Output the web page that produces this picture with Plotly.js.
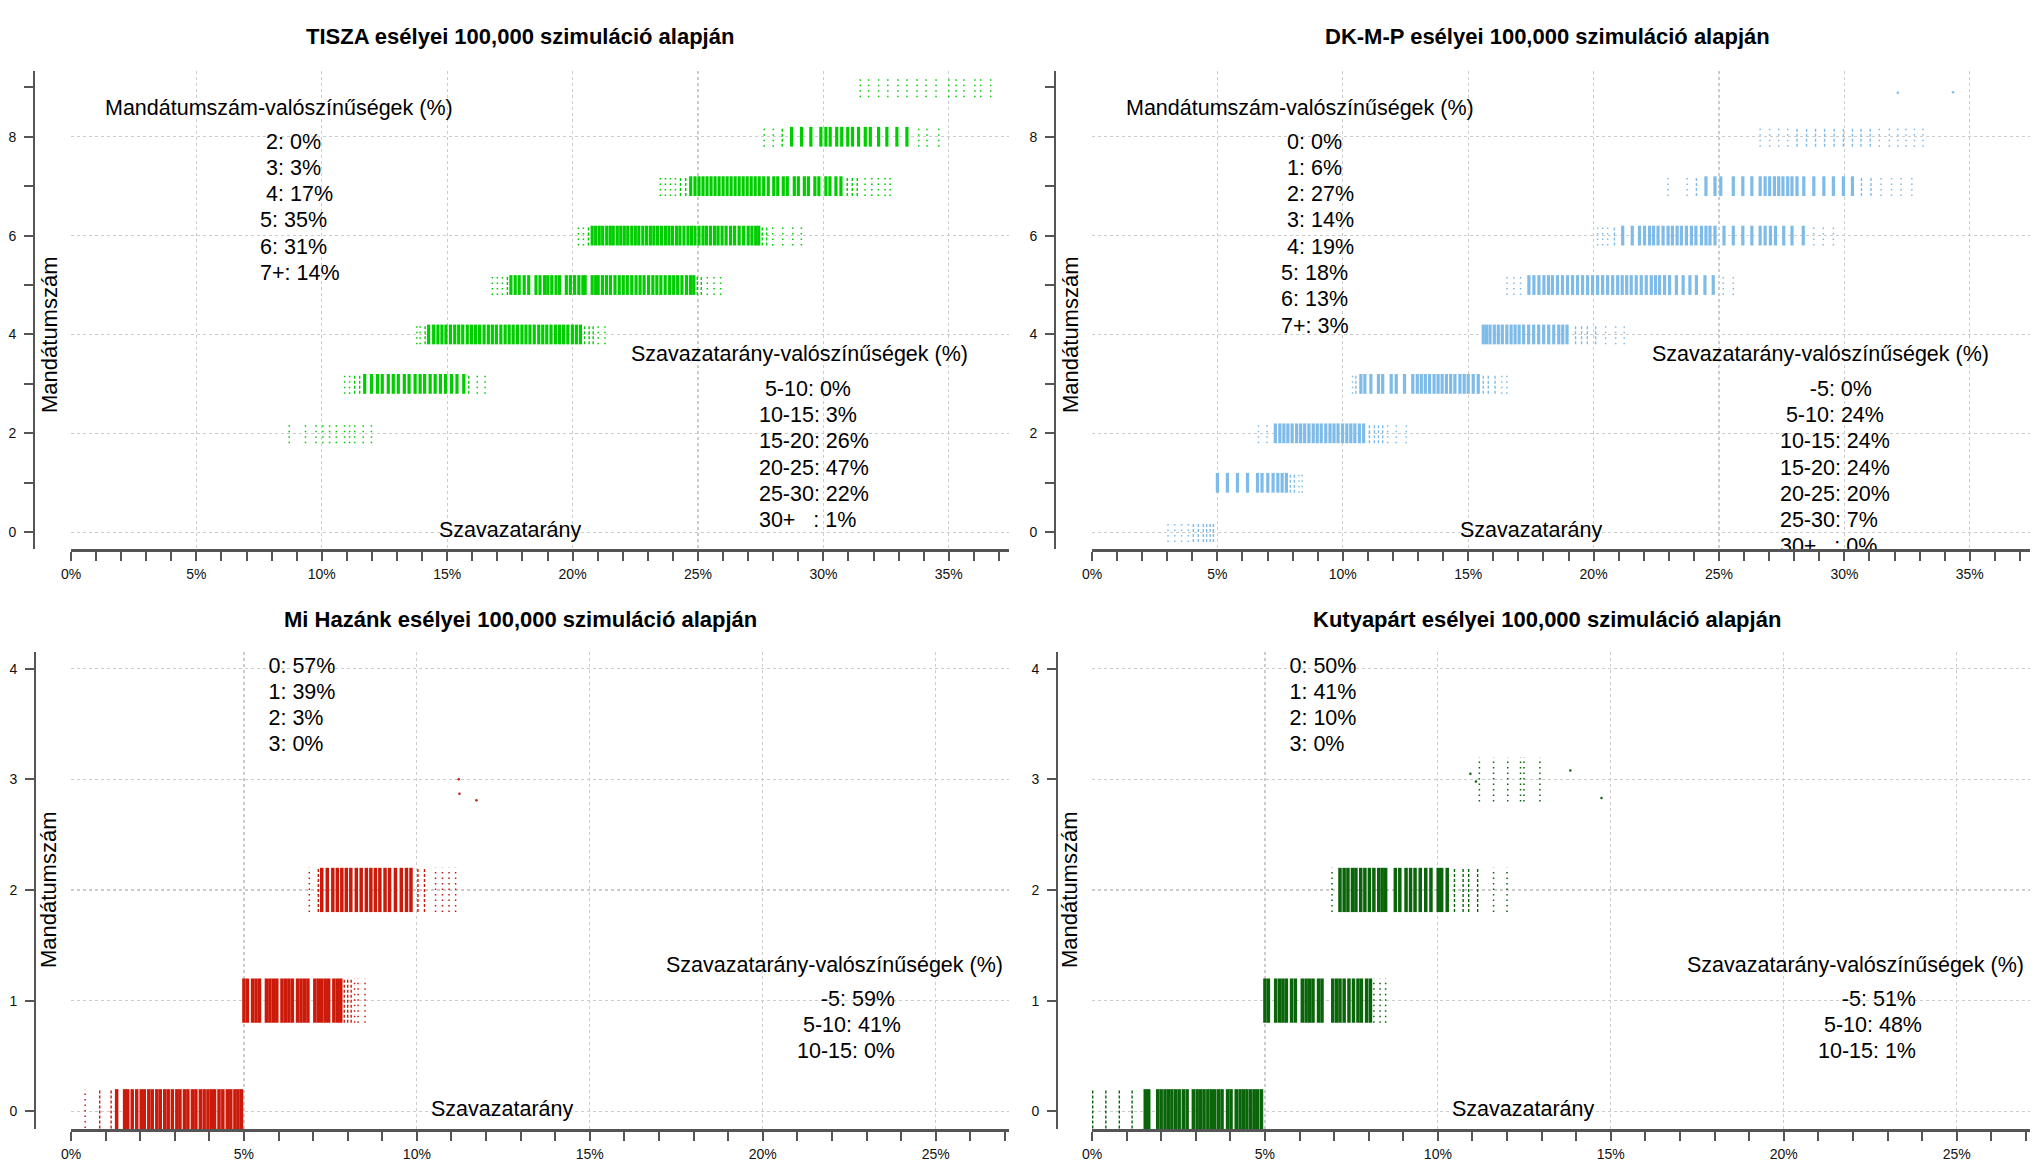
<!DOCTYPE html>
<html>
<head>
<meta charset="utf-8">
<script src="https://cdn.plot.ly/plotly-3.0.1.min.js"></script>
<style>body{margin:0;background:#fff;}</style>
</head>
<body>
<div id="myPlot" style="width:2044px;height:1164px;"></div>
<script>
// ---- data ----
// every band = one seat count; values are vote shares (%) where simulations pile up
// solid = dense stripes, half = thinner stripes, dots = a few scattered simulations

var tiszaSeats = [2, 3, 4, 5, 6, 7, 8, 9];
var tiszaSolid = [
  [],
  [11.71, 11.98, 12.22, 12.41, 12.65, 12.85, 13.05, 13.29, 13.48, 13.72, 13.92, 14.10, 14.32, 14.52, 14.73, 14.93, 15.17, 15.39, 15.66],
  [14.26, 14.46, 14.63, 14.79, 14.95, 15.13, 15.30, 15.46, 15.62, 15.80, 15.97, 16.13, 16.29, 16.47, 16.64, 16.80, 16.96, 17.14, 17.31, 17.47, 17.63, 17.80, 17.98, 18.14, 18.30, 18.47, 18.65, 18.81, 18.97, 19.14, 19.32, 19.48, 19.64, 19.81, 19.99, 20.15, 20.31],
  [17.54, 17.71, 17.87, 18.07, 18.25, 18.54, 18.70, 18.88, 19.01, 19.17, 19.34, 19.48, 19.75, 19.91, 20.08, 20.25, 20.41, 20.50, 20.78, 20.92, 21.02, 21.19, 21.35, 21.51, 21.69, 21.86, 22.02, 22.18, 22.36, 22.53, 22.69, 22.85, 23.03, 23.20, 23.36, 23.52, 23.69, 23.87, 24.03, 24.19, 24.36, 24.54, 24.70, 24.83],
  [20.78, 20.92, 21.06, 21.20, 21.36, 21.50, 21.62, 21.78, 21.92, 22.06, 22.20, 22.36, 22.50, 22.64, 22.80, 22.95, 23.10, 23.24, 23.38, 23.54, 23.70, 23.84, 23.98, 24.14, 24.28, 24.44, 24.60, 24.74, 24.88, 25.04, 25.20, 25.34, 25.50, 25.66, 25.80, 25.96, 26.12, 26.30, 26.46, 26.64, 26.82, 27.00, 27.15, 27.30, 27.42],
  [24.71, 24.88, 25.04, 25.20, 25.36, 25.52, 25.68, 25.84, 26.00, 26.16, 26.32, 26.48, 26.64, 26.80, 26.96, 27.12, 27.28, 27.44, 27.62, 27.80, 28.02, 28.18, 28.40, 28.56, 28.84, 29.00, 29.24, 29.40, 29.66, 29.82, 30.10, 30.26, 30.50, 30.70],
  [28.73, 29.13, 29.50, 29.90, 30.10, 30.27, 30.53, 30.73, 30.97, 31.16, 31.40, 31.67, 31.87, 32.20, 32.53, 32.93, 33.33],
  []
];
var tiszaHalf = [
  [],
  [11.31, 11.51, 15.86],
  [14.12, 20.48, 20.66, 20.82],
  [17.40, 24.97, 25.13],
  [20.63, 27.56, 27.74],
  [24.30, 24.51, 30.95, 31.15, 31.35],
  [28.36],
  []
];
var tiszaDots = [
  [8.70, 9.35, 9.77, 10.04, 10.31, 10.58, 10.91, 11.11, 11.31, 11.65, 11.98],
  [10.91, 11.11, 16.20, 16.51],
  [13.79, 13.92, 21.02, 21.29],
  [16.80, 17.00, 17.20, 25.37, 25.64, 25.90],
  [20.23, 20.43, 27.98, 28.38, 28.78, 29.12],
  [23.50, 23.70, 23.90, 24.10, 31.66, 31.93, 32.19, 32.46, 32.66],
  [27.64, 28.00, 33.80, 34.13, 34.60],
  [31.47, 31.80, 32.20, 32.57, 32.97, 33.33, 33.73, 34.09, 34.49, 35.00, 35.29, 35.60, 36.04, 36.27, 36.67]
];

var dkSeats = [0, 1, 2, 3, 4, 5, 6, 7, 8];
var dkSolid = [
  [],
  [5.00, 5.40, 5.80, 6.20, 6.60, 6.78, 7.01, 7.22, 7.41, 7.58, 7.75],
  [7.31, 7.49, 7.65, 7.81, 7.98, 8.16, 8.32, 8.48, 8.65, 8.82, 8.98, 9.14, 9.32, 9.49, 9.65, 9.81, 9.99, 10.16, 10.32, 10.48, 10.66, 10.83],
  [10.72, 10.88, 11.12, 11.42, 11.59, 11.93, 12.13, 12.46, 12.79, 12.97, 13.13, 13.29, 13.46, 13.64, 13.80, 13.96, 14.13, 14.30, 14.47, 14.67, 14.84, 15.00, 15.20, 15.40],
  [15.60, 15.73, 15.87, 16.04, 16.20, 16.36, 16.54, 16.71, 16.87, 17.03, 17.21, 17.41, 17.61, 17.81, 18.01, 18.21, 18.41, 18.61, 18.77, 18.94],
  [17.42, 17.62, 17.82, 18.02, 18.20, 18.36, 18.56, 18.76, 18.96, 19.16, 19.36, 19.56, 19.76, 19.96, 20.16, 20.36, 20.56, 20.76, 20.96, 21.14, 21.32, 21.50, 21.70, 21.90, 22.10, 22.30, 22.47, 22.63, 22.83, 23.03, 23.30, 23.57, 23.84, 24.10, 24.44, 24.77],
  [21.16, 21.54, 21.83, 22.03, 22.23, 22.39, 22.57, 22.77, 22.97, 23.14, 23.33, 23.50, 23.70, 23.90, 24.08, 24.30, 24.48, 24.64, 24.84, 25.20, 25.57, 25.95, 26.31, 26.64, 26.84, 27.05, 27.25, 27.58, 27.91, 28.36],
  [24.48, 24.84, 25.07, 25.57, 25.95, 26.31, 26.64, 26.84, 27.02, 27.21, 27.38, 27.55, 27.74, 27.91, 28.11, 28.38, 28.78, 29.18, 29.56, 29.96, 30.32],
  []
];
var dkHalf = [
  [4.04, 4.24, 4.44, 4.57, 4.71, 4.84],
  [7.91, 8.07],
  [11.06, 11.26, 11.42, 11.59],
  [10.52, 15.60, 15.80, 16.07],
  [19.28, 19.52, 19.75, 20.08],
  [],
  [20.83],
  [24.10, 30.68, 31.06],
  [28.11, 28.49, 28.85, 29.21, 29.59, 29.96, 30.32, 30.66, 31.03]
];
var dkDots = [
  [3.03, 3.30, 3.57, 3.84],
  [8.25, 8.38],
  [6.64, 6.98, 11.79, 12.13, 12.53],
  [10.39, 16.34, 16.54],
  [20.48, 20.88, 21.22],
  [16.55, 16.82, 17.09, 25.17, 25.57],
  [20.16, 20.36, 20.56, 28.78, 29.16, 29.56],
  [22.97, 23.73, 31.46, 31.88, 32.26, 32.69],
  [26.64, 27.02, 27.38, 27.74, 31.39, 31.79, 32.13, 32.46, 32.79, 33.13]
];
var dkLoneX = [32.13, 34.33];
var dkLoneY = [8.89, 8.90];

var miSeats = [0, 1, 2];
var miSolid = [
  [1.32, 1.55, 1.64, 1.77, 1.90, 2.03, 2.12, 2.25, 2.35, 2.48, 2.58, 2.71, 2.81, 2.93, 3.06, 3.15, 3.28, 3.38, 3.51, 3.61, 3.74, 3.85, 3.96, 4.06, 4.15, 4.28, 4.39, 4.52, 4.62, 4.74, 4.83, 4.93],
  [5.00, 5.10, 5.25, 5.35, 5.45, 5.65, 5.75, 5.85, 5.95, 6.10, 6.20, 6.30, 6.40, 6.55, 6.65, 6.75, 6.85, 7.05, 7.15, 7.25, 7.35, 7.45, 7.60, 7.70, 7.80],
  [7.25, 7.41, 7.57, 7.70, 7.83, 7.96, 8.09, 8.25, 8.39, 8.54, 8.67, 8.80, 8.93, 9.08, 9.21, 9.38, 9.55, 9.70, 9.83]
];
var miHalf = [[0.83, 1.16], [7.90, 8.00, 8.10], [7.15, 10.03, 10.22]];
var miDots = [[0.41], [8.20, 8.30, 8.50], [6.89, 10.54, 10.74, 10.93, 11.12]];
var miLoneX = [11.21, 11.23, 11.72];
var miLoneY = [3.00, 2.87, 2.81];

var kutyaSeats = [0, 1, 2, 3];
var kutyaSolid = [
  [1.54, 1.64, 1.90, 2.00, 2.11, 2.21, 2.31, 2.42, 2.52, 2.64, 2.75, 2.93, 3.04, 3.14, 3.24, 3.35, 3.45, 3.55, 3.66, 3.76, 3.92, 4.02, 4.17, 4.28, 4.38, 4.48, 4.59, 4.69, 4.79, 4.90],
  [5.00, 5.10, 5.31, 5.42, 5.52, 5.62, 5.77, 5.88, 6.08, 6.19, 6.29, 6.39, 6.55, 6.65, 6.96, 7.07, 7.17, 7.29, 7.43, 7.56, 7.69, 7.79, 7.94, 8.05],
  [7.17, 7.29, 7.40, 7.53, 7.63, 7.77, 7.89, 8.02, 8.15, 8.29, 8.39, 8.49, 8.77, 8.90, 9.08, 9.21, 9.34, 9.49, 9.65, 9.80, 10.01, 10.11, 10.27],
  []
];
var kutyaHalf = [[0.02, 0.40, 0.79, 1.16], [], [10.48, 10.73, 10.89, 11.15], []];
var kutyaDots = [[], [8.15, 8.33, 8.49], [6.94, 11.61, 12.00], [11.20, 11.61, 12.02, 12.39, 12.49, 12.95]];
var kutyaLoneX = [10.94, 11.10, 13.83, 14.73];
var kutyaLoneY = [3.05, 2.98, 3.08, 2.83];

// probabilities printed in the boxes
var tiszaSeatLabels = ['\u00a02', '\u00a03', '\u00a04', '5', '6', '7+'];
var tiszaSeatProb = [0, 3, 17, 35, 31, 14];
var tiszaVoteLabels = ['\u00a05-10', '10-15', '15-20', '20-25', '25-30', '30+\u00a0\u00a0\u00a0'];
var tiszaVoteProb = [0, 3, 26, 47, 22, 1];

var dkSeatLabels = ['\u00a00', '\u00a01', '\u00a02', '\u00a03', '\u00a04', '5', '6', '7+'];
var dkSeatProb = [0, 6, 27, 14, 19, 18, 13, 3];
var dkVoteLabels = ['\u00a0\u00a0\u00a0\u00a0\u00a0-5', '\u00a05-10', '10-15', '15-20', '20-25', '25-30', '30+\u00a0\u00a0\u00a0'];
var dkVoteProb = [0, 24, 24, 24, 20, 7, 0];

var miSeatLabels = ['0', '1', '2', '3'];
var miSeatProb = [57, 39, 3, 0];
var miVoteLabels = ['\u00a0\u00a0\u00a0\u00a0-5', '\u00a05-10', '10-15'];
var miVoteProb = [59, 41, 0];

var kutyaSeatLabels = ['0', '1', '2', '3'];
var kutyaSeatProb = [50, 41, 10, 0];
var kutyaVoteLabels = ['\u00a0\u00a0\u00a0\u00a0-5', '\u00a05-10', '10-15'];
var kutyaVoteProb = [51, 48, 1];

var titles = [
  'TISZA esélyei 100,000 szimuláció alapján',
  'DK-M-P esélyei 100,000 szimuláció alapján',
  'Mi Hazánk esélyei 100,000 szimuláció alapján',
  'Kutyapárt esélyei 100,000 szimuláció alapján'
];

// ---- drawing ----
var FONT = 'Liberation Sans, Arial, sans-serif';
var JIT = 0.2;   // vertical jitter of the points around the seat count

function stripes(seats, bands, xa, ya, color, width, dash){
  var x = [], y = [];
  for(var i = 0; i < seats.length; i++){
    for(var j = 0; j < bands[i].length; j++){
      x.push(bands[i][j], bands[i][j], null);
      y.push(seats[i] - JIT, seats[i] + JIT, null);
    }
  }
  return {x: x, y: y, xaxis: xa, yaxis: ya, type: 'scatter', mode: 'lines',
          line: {color: color, width: width, dash: dash},
          hoverinfo: 'skip', showlegend: false};
}

function lonePoints(xs, ys, xa, ya, color){
  return {x: xs, y: ys, xaxis: xa, yaxis: ya, type: 'scatter', mode: 'markers',
          marker: {color: color, size: 2.5}, hoverinfo: 'skip', showlegend: false};
}

// list lines as text traces so they get clipped by the plot area like in R
function textLines(labels, probs, x, y0, dy, xa, ya){
  var xs = [], ys = [], txt = [];
  for(var i = 0; i < labels.length; i++){
    xs.push(x);
    ys.push(y0 - i * dy);
    txt.push(labels[i] + ': ' + probs[i] + '%');
  }
  return {x: xs, y: ys, text: txt, xaxis: xa, yaxis: ya, type: 'scatter', mode: 'text',
          textposition: 'middle right', cliponaxis: true,
          textfont: {family: FONT, size: 21.5, color: '#000'},
          hoverinfo: 'skip', showlegend: false};
}

function xAxis(domain, range, anchor){
  return {
    domain: domain, range: range, anchor: anchor, fixedrange: true,
    tick0: 0, dtick: 5, ticksuffix: '%',
    ticks: 'outside', ticklen: 9, tickwidth: 2, tickcolor: '#555',
    ticklabelstandoff: 2,
    tickfont: {family: FONT, size: 14, color: '#111'},
    showline: true, linecolor: '#555', linewidth: 2.5,
    showgrid: true, gridcolor: '#cccccc', griddash: 'dot', gridwidth: 1.2,
    zeroline: false,
    minor: {dtick: 1, ticks: 'outside', ticklen: 9, tickwidth: 2, tickcolor: '#555', showgrid: false}
  };
}

function yAxis(domain, range, position, dtick, minor){
  var ax = {
    domain: domain, range: range, anchor: 'free', position: position, fixedrange: true,
    tick0: 0, dtick: dtick,
    ticks: 'outside', ticklen: 9, tickwidth: 2, tickcolor: '#555',
    ticklabelstandoff: 5,
    tickfont: {family: FONT, size: 14, color: '#111'},
    showline: true, linecolor: '#555', linewidth: 2,
    showgrid: true, gridcolor: '#cccccc', griddash: 'dot', gridwidth: 1.2,
    zeroline: false
  };
  if(minor){
    ax.minor = {dtick: 1, ticks: 'outside', ticklen: 9, tickwidth: 2, tickcolor: '#555', showgrid: false};
  }
  return ax;
}

var W = 2044, H = 1164;
var topDom = [1 - 549 / H, 1 - 71 / H];
var botDom = [1 - 1129 / H, 1 - 652 / H];
var leftDom = [71 / W, 1009 / W];
var rightDom = [1092 / W, 2030 / W];

var traces = [];
function party(seats, solid, half, dots, xa, ya, color, sw){
  traces.push(stripes(seats, dots, xa, ya, color, 1.5, '1.5px,4px'));
  traces.push(stripes(seats, half, xa, ya, color, 1.4, '3px,2px'));
  traces.push(stripes(seats, solid, xa, ya, color, sw, 'solid'));
}

party(tiszaSeats, tiszaSolid, tiszaHalf, tiszaDots, 'x', 'y', '#00CD00', 3.2);
party(dkSeats, dkSolid, dkHalf, dkDots, 'x2', 'y2', '#7EBBE8', 3.2);
traces.push(lonePoints(dkLoneX, dkLoneY, 'x2', 'y2', '#7EBBE8'));
party(miSeats, miSolid, miHalf, miDots, 'x3', 'y3', '#CC1A0A', 3.5);
traces.push(lonePoints(miLoneX, miLoneY, 'x3', 'y3', '#CC1A0A'));
party(kutyaSeats, kutyaSolid, kutyaHalf, kutyaDots, 'x4', 'y4', '#0A640A', 3.5);
traces.push(lonePoints(kutyaLoneX, kutyaLoneY, 'x4', 'y4', '#0A640A'));

traces.push(textLines(tiszaSeatLabels, tiszaSeatProb, 7.54, 7.87, 0.532, 'x', 'y'));
traces.push(textLines(tiszaVoteLabels, tiszaVoteProb, 27.43, 2.87, 0.532, 'x', 'y'));
traces.push(textLines(dkSeatLabels, dkSeatProb, 7.54, 7.87, 0.532, 'x2', 'y2'));
traces.push(textLines(dkVoteLabels, dkVoteProb, 27.43, 2.87, 0.532, 'x2', 'y2'));
traces.push(textLines(miSeatLabels, miSeatProb, 5.71, 4.01, 0.235, 'x3', 'y3'));
traces.push(textLines(miVoteLabels, miVoteProb, 20.99, 0.997, 0.233, 'x3', 'y3'));
traces.push(textLines(kutyaSeatLabels, kutyaSeatProb, 5.71, 4.01, 0.235, 'x4', 'y4'));
traces.push(textLines(kutyaVoteLabels, kutyaVoteProb, 20.99, 0.997, 0.233, 'x4', 'y4'));

var annotations = [];
function note(text, x, y, xref, yref, size, extra){
  var a = {text: text, x: x, y: y, xref: xref, yref: yref, showarrow: false,
           xanchor: 'center', yanchor: 'middle',
           font: {family: FONT, size: size, color: '#000'}};
  for(var k in extra){ a[k] = extra[k]; }
  annotations.push(a);
}

var titleX = [520 / W, 1547 / W, 520 / W, 1547 / W];
var titleY = [1 - 36 / H, 1 - 36 / H, 1 - 619 / H, 1 - 619 / H];
for(var i = 0; i < titles.length; i++){
  note('<b>' + titles[i] + '</b>', titleX[i], titleY[i], 'paper', 'paper', 22);
  note('Mandátumszám', i % 2 === 0 ? 49 / W : 1070 / W, i < 2 ? 1 - 335 / H : 1 - 890 / H,
       'paper', 'paper', 22, {textangle: -90});
}

// headers and axis names inside the plots
note('Mandátumszám-valószínűségek (%)', 8.30, 8.58, 'x', 'y', 21.5);
note('Mandátumszám-valószínűségek (%)', 8.30, 8.58, 'x2', 'y2', 21.5);
note('Szavazatarány-valószínűségek (%)', 29.05, 3.60, 'x', 'y', 21.5);
note('Szavazatarány-valószínűségek (%)', 29.05, 3.60, 'x2', 'y2', 21.5);
note('Szavazatarány-valószínűségek (%)', 22.07, 1.32, 'x3', 'y3', 21.5);
note('Szavazatarány-valószínűségek (%)', 22.07, 1.32, 'x4', 'y4', 21.5);
note('Szavazatarány', 17.5, 0.04, 'x', 'y', 21.5);
note('Szavazatarány', 17.5, 0.04, 'x2', 'y2', 21.5);
note('Szavazatarány', 12.47, 0.02, 'x3', 'y3', 21.5);
note('Szavazatarány', 12.47, 0.02, 'x4', 'y4', 21.5);

var layout = {
  width: W, height: H,
  margin: {l: 0, r: 0, t: 0, b: 0, pad: 0},
  paper_bgcolor: '#fff', plot_bgcolor: 'rgba(0,0,0,0)',
  showlegend: false,
  font: {family: FONT, color: '#000'},
  xaxis: xAxis(leftDom, [0, 37.4], 'y'),
  yaxis: yAxis(topDom, [-0.34, 9.33], 34 / W, 2, true),
  xaxis2: xAxis(rightDom, [0, 37.4], 'y2'),
  yaxis2: yAxis(topDom, [-0.34, 9.33], 1055 / W, 2, true),
  xaxis3: xAxis(leftDom, [0, 27.12], 'y3'),
  yaxis3: yAxis(botDom, [-0.16, 4.15], 35 / W, 1, false),
  xaxis4: xAxis(rightDom, [0, 27.12], 'y4'),
  yaxis4: yAxis(botDom, [-0.16, 4.15], 1057 / W, 1, false),
  annotations: annotations
};

Plotly.newPlot('myPlot', traces, layout, {staticPlot: true, displayModeBar: false});
</script>
</body>
</html>
